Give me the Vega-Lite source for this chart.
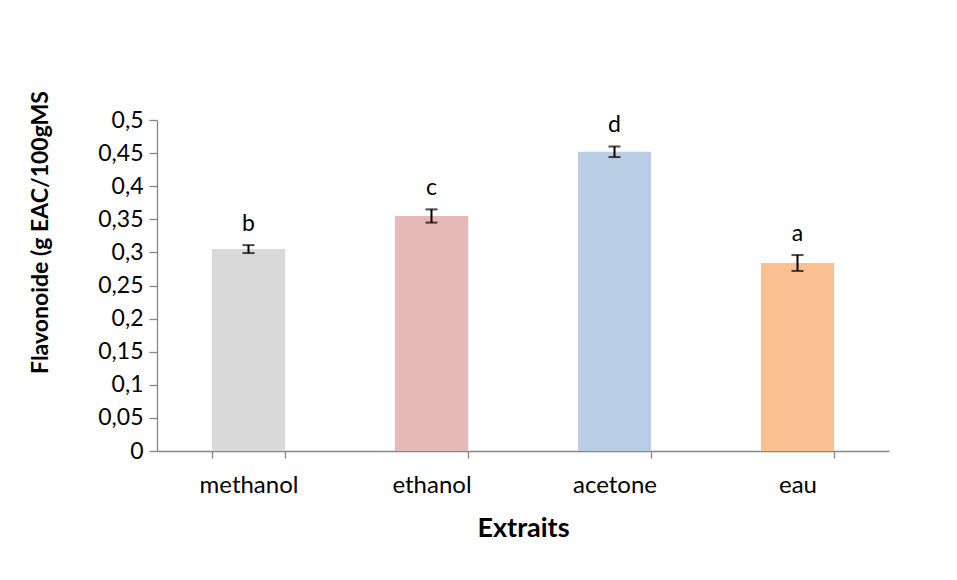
{
  "$schema": "https://vega.github.io/schema/vega-lite/v6.json",
  "width": 732,
  "height": 331,
  "autosize": {"type": "none"},
  "padding": {"left": 157, "top": 120, "right": 68, "bottom": 129},
  "background": "white",
  "config": {
    "view": {"stroke": null},
    "font": "Lato",
    "axis": {"labelFont": "Lato", "titleFont": "Lato", "labelColor": "#000000", "titleColor": "#000000", "domainColor": "#868686", "tickColor": "#868686", "grid": false}
  },
  "data": {
    "values": [
      {"extrait": "methanol", "value": 0.305, "lower": 0.299, "upper": 0.311, "letter": "b"},
      {"extrait": "ethanol", "value": 0.355, "lower": 0.345, "upper": 0.365, "letter": "c"},
      {"extrait": "acetone", "value": 0.452, "lower": 0.444, "upper": 0.460, "letter": "d"},
      {"extrait": "eau", "value": 0.284, "lower": 0.272, "upper": 0.296, "letter": "a"}
    ]
  },
  "encoding": {
    "x": {
      "field": "extrait",
      "type": "nominal",
      "sort": ["methanol", "ethanol", "acetone", "eau"],
      "scale": {"paddingInner": 0.6, "paddingOuter": 0.3},
      "axis": {
        "title": "Extraits",
        "titleFontSize": 27,
        "titleFontWeight": "bold",
        "titlePadding": 18,
        "labelFontSize": 24,
        "labelAngle": 0,
        "labelPadding": 15,
        "labelOverlap": false,
        "tickBand": "extent",
        "tickSize": 7,
        "domainWidth": 1.3,
        "tickWidth": 1.3
      }
    }
  },
  "layer": [
    {
      "mark": {"type": "bar"},
      "encoding": {
        "y": {
          "field": "value",
          "type": "quantitative",
          "scale": {"domain": [0, 0.5], "nice": false},
          "axis": {
            "title": "Flavonoide (g EAC/100gMS",
            "titleFontSize": 23,
            "titleFontWeight": "bold",
            "titlePadding": 45,
            "titleY": 112,
            "values": [0, 0.05, 0.1, 0.15, 0.2, 0.25, 0.3, 0.35, 0.4, 0.45, 0.5],
            "labelExpr": "replace(format(datum.value, '.2~f'), '.', ',')",
            "labelFontSize": 23,
            "labelPadding": 6,
            "labelOverlap": false,
            "tickSize": 8,
            "domainWidth": 1.3,
            "tickWidth": 1.3
          }
        },
        "color": {
          "field": "extrait",
          "type": "nominal",
          "scale": {"domain": ["methanol", "ethanol", "acetone", "eau"], "range": ["#D9D9D9", "#E6B9B8", "#B9CDE5", "#FAC090"]},
          "legend": null
        }
      }
    },
    {
      "mark": {"type": "rule", "color": "#000000", "strokeWidth": 2},
      "encoding": {
        "y": {
          "field": "lower",
          "type": "quantitative",
          "axis": {
            "title": "Flavonoide (g EAC/100gMS",
            "titleFontSize": 23,
            "titleFontWeight": "bold",
            "titlePadding": 45,
            "titleY": 112,
            "values": [0, 0.05, 0.1, 0.15, 0.2, 0.25, 0.3, 0.35, 0.4, 0.45, 0.5],
            "labelExpr": "replace(format(datum.value, '.2~f'), '.', ',')",
            "labelFontSize": 23,
            "labelPadding": 6,
            "labelOverlap": false,
            "tickSize": 8,
            "domainWidth": 1.3,
            "tickWidth": 1.3
          }
        },
        "y2": {"field": "upper"}
      }
    },
    {
      "mark": {"type": "tick", "color": "#000000", "size": 12, "thickness": 2},
      "encoding": {
        "y": {
          "field": "lower",
          "type": "quantitative",
          "axis": {
            "title": "Flavonoide (g EAC/100gMS",
            "titleFontSize": 23,
            "titleFontWeight": "bold",
            "titlePadding": 45,
            "titleY": 112,
            "values": [0, 0.05, 0.1, 0.15, 0.2, 0.25, 0.3, 0.35, 0.4, 0.45, 0.5],
            "labelExpr": "replace(format(datum.value, '.2~f'), '.', ',')",
            "labelFontSize": 23,
            "labelPadding": 6,
            "labelOverlap": false,
            "tickSize": 8,
            "domainWidth": 1.3,
            "tickWidth": 1.3
          }
        }
      }
    },
    {
      "mark": {"type": "tick", "color": "#000000", "size": 12, "thickness": 2},
      "encoding": {
        "y": {
          "field": "upper",
          "type": "quantitative",
          "axis": {
            "title": "Flavonoide (g EAC/100gMS",
            "titleFontSize": 23,
            "titleFontWeight": "bold",
            "titlePadding": 45,
            "titleY": 112,
            "values": [0, 0.05, 0.1, 0.15, 0.2, 0.25, 0.3, 0.35, 0.4, 0.45, 0.5],
            "labelExpr": "replace(format(datum.value, '.2~f'), '.', ',')",
            "labelFontSize": 23,
            "labelPadding": 6,
            "labelOverlap": false,
            "tickSize": 8,
            "domainWidth": 1.3,
            "tickWidth": 1.3
          }
        }
      }
    },
    {
      "mark": {"type": "text", "baseline": "alphabetic", "dy": -14, "fontSize": 23, "font": "Lato", "color": "#000000"},
      "encoding": {
        "y": {
          "field": "upper",
          "type": "quantitative",
          "axis": {
            "title": "Flavonoide (g EAC/100gMS",
            "titleFontSize": 23,
            "titleFontWeight": "bold",
            "titlePadding": 45,
            "titleY": 112,
            "values": [0, 0.05, 0.1, 0.15, 0.2, 0.25, 0.3, 0.35, 0.4, 0.45, 0.5],
            "labelExpr": "replace(format(datum.value, '.2~f'), '.', ',')",
            "labelFontSize": 23,
            "labelPadding": 6,
            "labelOverlap": false,
            "tickSize": 8,
            "domainWidth": 1.3,
            "tickWidth": 1.3
          }
        },
        "text": {"field": "letter"}
      }
    }
  ]
}
